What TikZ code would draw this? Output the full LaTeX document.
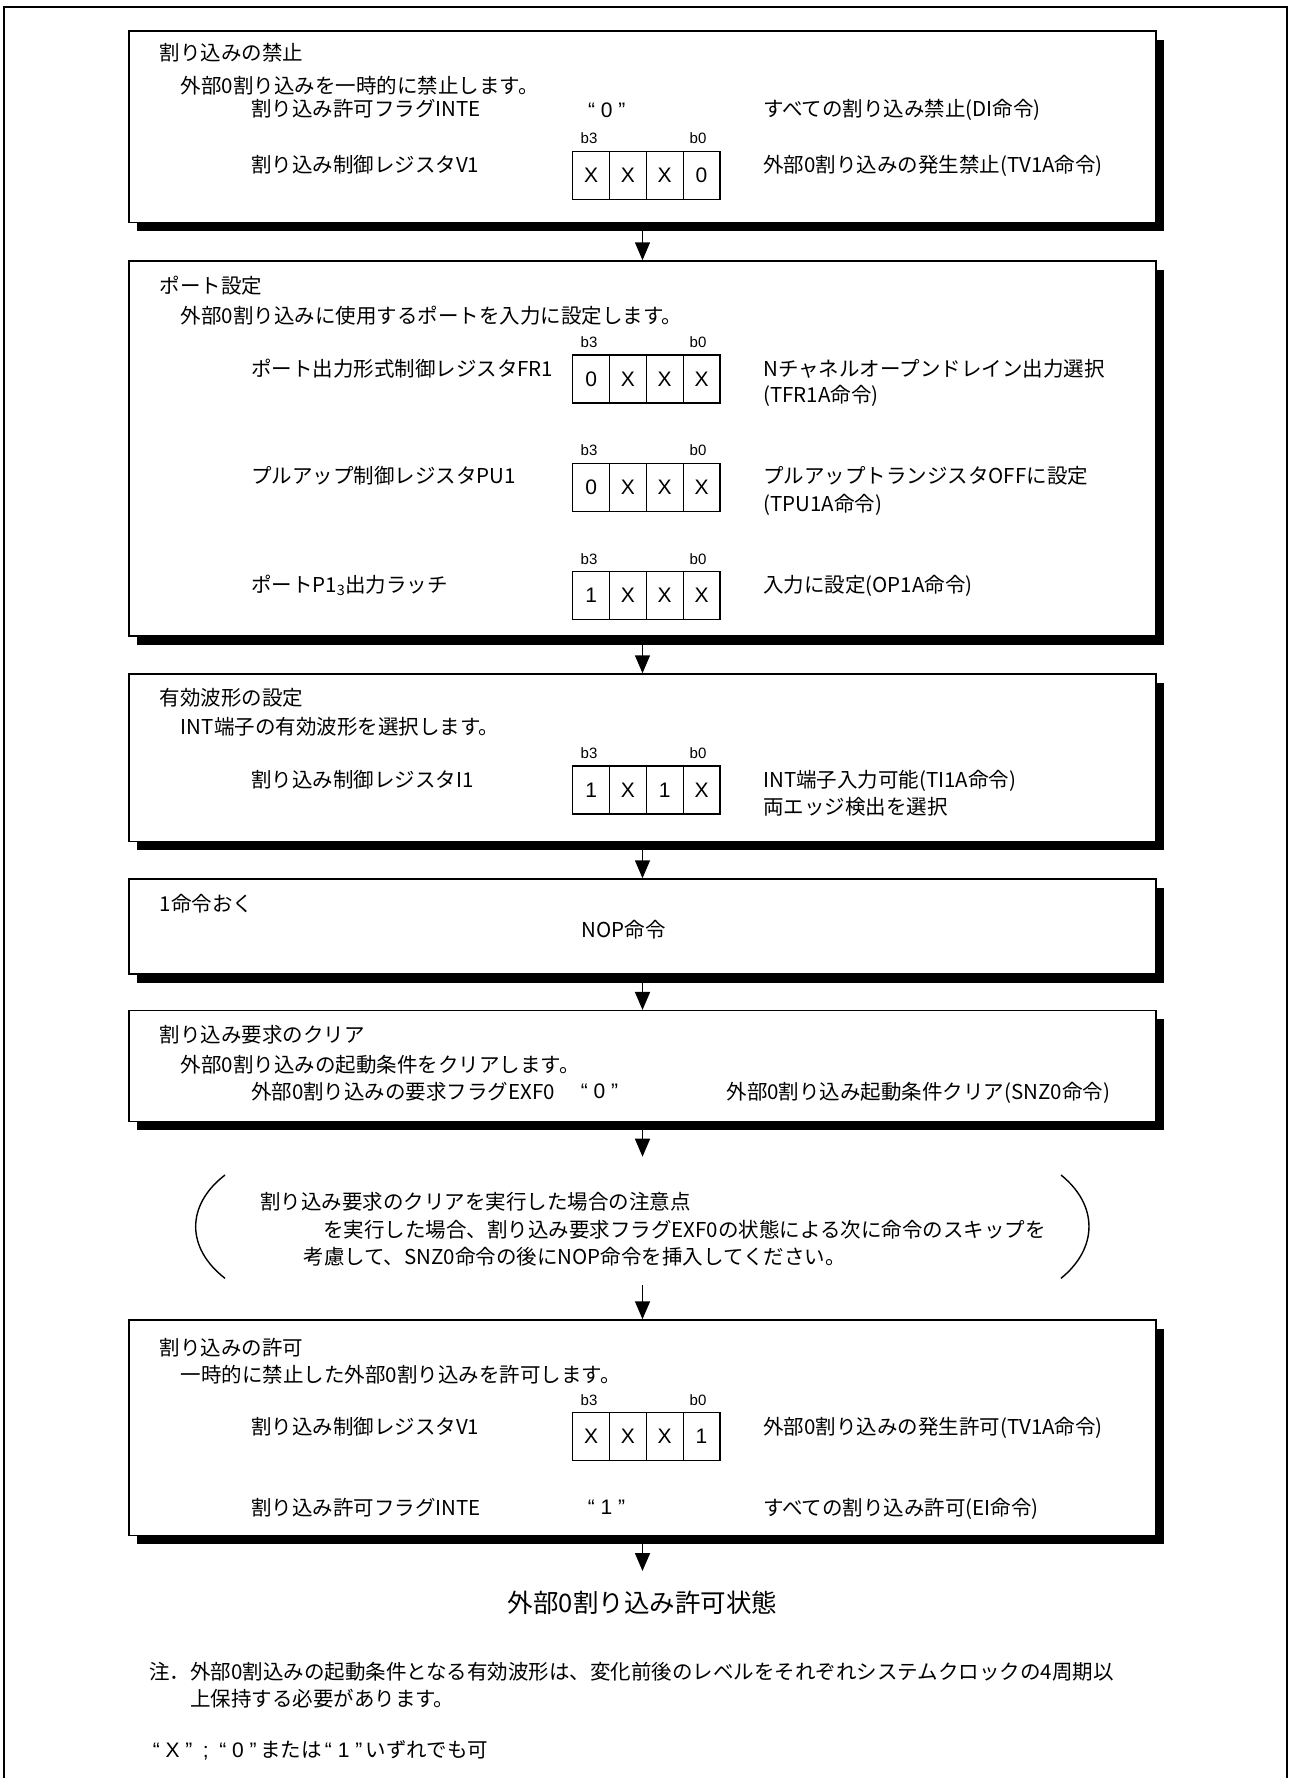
\documentclass[tikz,border=0pt]{standalone}
\usepackage{fontspec}
\setmainfont{Noto Sans CJK JP}
\newfontfamily\lat{Liberation Sans}
\usetikzlibrary{arrows.meta,shadows}
\newcommand\jpf{\fontsize{20.5pt}{24pt}\selectfont}
\newcommand\latf{\lat\fontsize{21pt}{24pt}\selectfont}
\tikzset{
  flowbox/.style={draw, line width=1.5pt, fill=white, minimum width=1027pt, inner sep=0pt,
    drop shadow={shadow xshift=8pt, shadow yshift=-8.5pt, opacity=1, fill=black}},
  flowarrow/.style={line width=1.5pt, -{Triangle[length=18pt,width=15pt]}},
  txt/.style={anchor=base west, inner sep=0pt, font=\jpf},
  ctxt/.style={anchor=base, inner sep=0pt, font=\jpf},
  quotebit/.style={inner sep=0pt, font=\latf},
  cell/.style={draw, line width=1.2pt, minimum width=36.8pt, minimum height=48pt, inner sep=0pt, font=\latf},
  blab/.style={inner sep=0pt, font=\lat\fontsize{15pt}{18pt}\selectfont},
  paren/.style={line width=1.4pt},
  frameline/.style={line width=2pt},
}
% register row: #1 name, #2 top y, #3..#6 bit values b3..b0
\newcommand\regrow[6]{%
  \node[blab] (#1b3) at (589,#2-13) {b3};
  \node[blab] (#1b0) at (698,#2-13) {b0};
  \node[cell] (#1c3) at (591.1,#2+24) {#3};
  \node[cell] (#1c2) at (627.9,#2+24) {#4};
  \node[cell] (#1c1) at (664.7,#2+24) {#5};
  \node[cell] (#1c0) at (701.5,#2+24) {#6};
}
\begin{document}
\begin{tikzpicture}[x=1pt,y=-1pt]
\useasboundingbox (0,0) rectangle (1289,1778);
% outer frame (open at bottom)
\draw[frameline] (4,1800) -- (4,7.3) -- (1287,7.3) -- (1287,1800);

% boxes
\node[flowbox, minimum height=191.7pt] (b1) at (642.5,126.85) {};
\node[flowbox, minimum height=375pt]   (b2) at (642.5,448.5) {};
\node[flowbox, minimum height=167.7pt] (b3) at (642.5,757.85) {};
\node[flowbox, minimum height=95pt]    (b4) at (642.5,926.5) {};
\node[flowbox, minimum height=111pt]   (b5) at (642.5,1066.2) {};
\node[flowbox, minimum height=215.7pt] (b6) at (642.5,1427.85) {};

% box 1
\node[txt] (t11) at (159.6,60.8) {割り込みの禁止};
\node[txt] (t12) at (180.7,93.8) {外部0割り込みを一時的に禁止します。};
\node[txt] (t13) at (250.8,116.8) {割り込み許可フラグINTE};
\node[quotebit] (q1) at (606.7,110) {“ 0 ”};
\node[txt] (t14) at (763,116.8) {すべての割り込み禁止(DI命令)};
\regrow{ra}{151.5}{X}{X}{X}{0}
\node[txt] (t15) at (250.8,172.1) {割り込み制御レジスタV1};
\node[txt] (t16) at (763,172.1) {外部0割り込みの発生禁止(TV1A命令)};

% box 2
\node[txt] (t21) at (159.6,293.8) {ポート設定};
\node[txt] (t22) at (180.7,323.8) {外部0割り込みに使用するポートを入力に設定します。};
\regrow{rb}{355}{0}{X}{X}{X}
\node[txt] (t23) at (250.8,376.1) {ポート出力形式制御レジスタFR1};
\node[txt] (t24) at (763,376.1) {Nチャネルオープンドレイン出力選択};
\node[txt] (t25) at (763,402.8) {(TFR1A命令)};
\regrow{rc}{463.3}{0}{X}{X}{X}
\node[txt] (t26) at (250.8,483.8) {プルアップ制御レジスタPU1};
\node[txt] (t27) at (763,483.8) {プルアップトランジスタOFFに設定};
\node[txt] (t28) at (763,511.1) {(TPU1A命令)};
\regrow{rd}{571.7}{1}{X}{X}{X}
\node[txt] (t29) at (250.8,592.1) {ポートP1\textsubscript{3}出力ラッチ};
\node[txt] (t2a) at (763,592.1) {入力に設定(OP1A命令)};

% box 3
\node[txt] (t31) at (159.6,705.1) {有効波形の設定};
\node[txt] (t32) at (180.7,734.5) {INT端子の有効波形を選択します。};
\regrow{re}{766}{1}{X}{1}{X}
\node[txt] (t33) at (250.8,787.8) {割り込み制御レジスタI1};
\node[txt] (t34) at (763,787.8) {INT端子入力可能(TI1A命令)};
\node[txt] (t35) at (763,814.5) {両エッジ検出を選択};

% box 4
\node[txt] (t41) at (159.6,911.1) {1命令おく};
\node[ctxt] (t42) at (623.6,937.8) {NOP命令};

% box 5
\node[txt] (t51) at (159.6,1042.8) {割り込み要求のクリア};
\node[txt] (t52) at (180.7,1072.8) {外部0割り込みの起動条件をクリアします。};
\node[txt] (t53) at (250.8,1099.5) {外部0割り込みの要求フラグEXF0};
\node[quotebit] (q2) at (599.5,1091.7) {“ 0 ”};
\node[txt] (t54) at (726.4,1099.5) {外部0割り込み起動条件クリア(SNZ0命令)};

% caution in parentheses
\draw[paren] (225,1175) .. controls (185.9,1205) and (185.9,1248) .. (225,1278.3);
\draw[paren] (1061,1175) .. controls (1098.3,1205) and (1098.3,1248) .. (1061,1278.3);
\node[txt] (c1) at (260,1209.5) {割り込み要求のクリアを実行した場合の注意点};
\node[txt] (c2) at (323,1237.1) {を実行した場合、割り込み要求フラグEXF0の状態による次に命令のスキップを};
\node[txt] (c3) at (303.4,1264.5) {考慮して、SNZ0命令の後にNOP命令を挿入してください。};

% box 6
\node[txt] (t61) at (159.6,1355.1) {割り込みの許可};
\node[txt] (t62) at (180.7,1382.8) {一時的に禁止した外部0割り込みを許可します。};
\regrow{rf}{1412.7}{X}{X}{X}{1}
\node[txt] (t63) at (250.8,1434.5) {割り込み制御レジスタV1};
\node[txt] (t64) at (763,1434.5) {外部0割り込みの発生許可(TV1A命令)};
\node[txt] (t65) at (250.8,1515.1) {割り込み許可フラグINTE};
\node[quotebit] (q3) at (606.5,1507.3) {“ 1 ”};
\node[txt] (t66) at (763,1515.1) {すべての割り込み許可(EI命令)};

% final state
\node[anchor=base, inner sep=0pt, font=\fontsize{25.5pt}{30pt}\selectfont] (fin) at (642.5,1612.4) {外部0割り込み許可状態};

% notes
\node[txt] (n1) at (149,1679.5) {注．外部0割込みの起動条件となる有効波形は、変化前後のレベルをそれぞれシステムクロックの4周期以};
\node[txt] (n2) at (189.8,1706.1) {上保持する必要があります。};
\node[txt] (n3) at (152.6,1757.8) {{\latf “ X ”\enspace;\enspace“ 0 ”}\,または\,{\latf “ 1 ”}\,いずれでも可};

% connectors
\coordinate (p1) at (642.5,1156.7);
\coordinate (p2) at (642.5,1285);
\coordinate (p3) at (642.5,1571);
\draw[flowarrow] (b1.south) -- (b2.north);
\draw[flowarrow] (b2.south) -- (b3.north);
\draw[flowarrow] (b3.south) -- (b4.north);
\draw[flowarrow] (b4.south) -- (b5.north);
\draw[flowarrow] (b5.south) -- (p1);
\draw[flowarrow] (p2) -- (b6.north);
\draw[flowarrow] (b6.south) -- (p3);
\end{tikzpicture}
\end{document}
